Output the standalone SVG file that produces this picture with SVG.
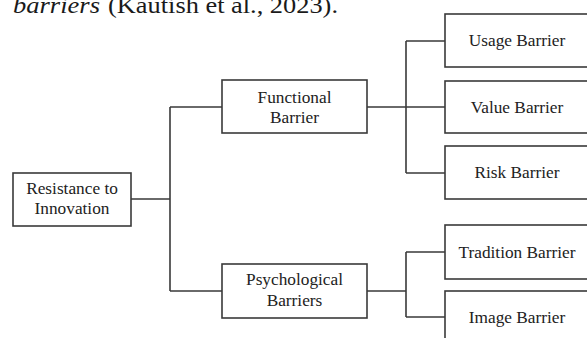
<svg xmlns="http://www.w3.org/2000/svg" width="587" height="338" viewBox="0 0 587 338">
  <style>
    .box { fill: #ffffff; stroke: #3a3a3a; stroke-width: 1.6; }
    .lbl { font-family: "Liberation Serif", "Times New Roman", serif; font-size: 17.3px; fill: #222222; text-anchor: middle; }
    .wire { fill: none; stroke: #3a3a3a; stroke-width: 1.6; }
    .cap { font-family: "Liberation Serif", serif; font-size: 24px; fill: #1a1a1a; }
  </style>
  <rect width="587" height="338" fill="#ffffff"/>

  <!-- caption line running off the top edge -->
  <text class="cap" x="13" y="13" font-style="italic" textLength="87" lengthAdjust="spacingAndGlyphs">barriers</text>
  <text class="cap" x="108" y="13" textLength="230" lengthAdjust="spacingAndGlyphs">(Kautish et al., 2023).</text>

  <!-- connectors -->
  <g id="connectors">
    <path class="wire" d="M131 199 H170 M170 107 V291 M170 107 H222 M170 291 H222"/>
    <path class="wire" d="M367 107 H445 M406 41 V173 M406 41 H445 M406 173 H445"/>
    <path class="wire" d="M367 291 H406 M406 252 V317 M406 252 H445 M406 317 H445"/>
  </g>

  <g id="resistance">
    <rect class="box" x="13" y="173" width="118" height="53"/>
    <text class="lbl" x="72" y="194">Resistance to</text>
    <text class="lbl" x="72" y="214">Innovation</text>
  </g>

  <g id="functional">
    <rect class="box" x="222" y="80" width="145" height="53"/>
    <text class="lbl" x="294.5" y="103">Functional</text>
    <text class="lbl" x="294.5" y="123">Barrier</text>
  </g>

  <g id="psychological">
    <rect class="box" x="222" y="264" width="145" height="54"/>
    <text class="lbl" x="294.5" y="285">Psychological</text>
    <text class="lbl" x="294.5" y="306">Barriers</text>
  </g>

  <g id="usage">
    <rect class="box" x="445" y="14" width="150" height="53"/>
    <text class="lbl" x="517" y="46">Usage Barrier</text>
  </g>

  <g id="value">
    <rect class="box" x="445" y="81" width="150" height="52"/>
    <text class="lbl" x="517" y="113">Value Barrier</text>
  </g>

  <g id="risk">
    <rect class="box" x="445" y="146" width="150" height="53"/>
    <text class="lbl" x="517" y="178">Risk Barrier</text>
  </g>

  <g id="tradition">
    <rect class="box" x="445" y="225" width="150" height="54"/>
    <text class="lbl" x="517" y="258">Tradition Barrier</text>
  </g>

  <g id="image">
    <rect class="box" x="445" y="291" width="150" height="60"/>
    <text class="lbl" x="517" y="323">Image Barrier</text>
  </g>
</svg>
